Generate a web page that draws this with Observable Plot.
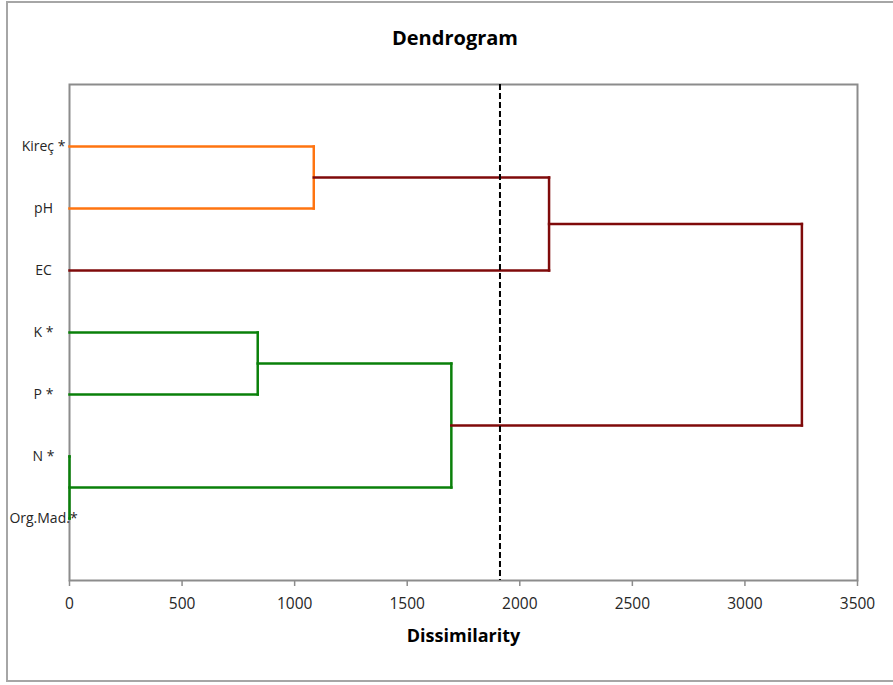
<!DOCTYPE html>
<html>
<head>
<meta charset="utf-8">
<script src="https://cdn.jsdelivr.net/npm/d3@7"></script>
<script src="https://cdn.jsdelivr.net/npm/@observablehq/plot@0.6"></script>
<style>
  html, body { margin: 0; padding: 0; background: #fff; }
  body { width: 893px; height: 685px; position: relative; overflow: hidden; font-family: "Open Sans", Lato, sans-serif; }
  #border { position: absolute; left: 6px; top: 1px; width: 910px; height: 681px; border: 2px solid #a6a6a6; box-sizing: border-box; z-index: 2; pointer-events: none; }
  #title { position: absolute; left: 0; top: 25px; width: 910px; text-align: center; font-weight: bold; font-size: 20px; line-height: 26px; color: #000; }
  #chart { position: absolute; left: 0; top: 74px; }
</style>
</head>
<body>
<div id="chart"></div>
<div id="title">Dendrogram</div>
<div id="border"></div>
<script>
// Leaves (top to bottom)
const leaves = ["Kireç *", "pH", "EC", "K *", "P *", "N *", "Org.Mad.*"];
// Merges: id, the two children, merge height (dissimilarity), cluster group
const mergeIds    = ["m1", "m2", "m3", "m4", "m5", "m6"];
const mergeA      = ["Kireç *", "N *", "K *", "m3", "m1", "m5"];
const mergeB      = ["pH", "Org.Mad.*", "P *", "m2", "EC", "m4"];
const mergeHeight = [1085, 0, 836, 1696, 2130, 3253];
const mergeGroup  = ["C1", "C2", "C2", "C2", "root", "root"];
const cutoff = 1912;
const xTicks = [0, 500, 1000, 1500, 2000, 2500, 3000, 3500];

const groupDomain = ["C1", "C2", "root"];
const groupColors = ["#ff7410", "#0a800a", "#7f0a0a"];

// node positions
const pos = new Map();
leaves.forEach((d, i) => pos.set(d, {x: 0, y: i + 1}));
const segs = [];
mergeIds.forEach((id, i) => {
  const a = pos.get(mergeA[i]), b = pos.get(mergeB[i]);
  const h = mergeHeight[i], g = mergeGroup[i];
  segs.push({x1: a.x, y1: a.y, x2: h, y2: a.y, g});
  segs.push({x1: b.x, y1: b.y, x2: h, y2: b.y, g});
  segs.push({x1: h, y1: a.y, x2: h, y2: b.y, g});
  pos.set(id, {x: h, y: (a.y + b.y) / 2});
});

const chart = Plot.plot({
  width: 893,
  height: 600,
  marginTop: 10,
  marginLeft: 69,
  marginRight: 36,
  marginBottom: 94,
  style: {fontFamily: "'Open Sans', Lato, sans-serif", fontSize: "15px", color: "#262626", background: "transparent", overflow: "visible"},
  x: {domain: [0, 3500]},
  y: {domain: [0, leaves.length + 1], reverse: true},
  color: {domain: groupDomain, range: groupColors},
  marks: [
    Plot.frame({stroke: "#8c8c8c", strokeWidth: 2}),
    Plot.axisX(xTicks, {tickSize: 6, tickPadding: 11, stroke: "#8c8c8c", strokeWidth: 1.5, label: null, fill: "#262626", fontSize: 15.5, tickFormat: d3.format("d")}),
    Plot.link(segs, {x1: "x1", y1: "y1", x2: "x2", y2: "y2", stroke: "g", strokeWidth: 2.5, strokeLinecap: "square"}),
    Plot.ruleX([cutoff], {stroke: "#000", strokeWidth: 2, strokeDasharray: "6,3"}),
    Plot.axisY(d3.range(1, leaves.length + 1), {tickSize: 0, tickPadding: 26, textAnchor: "middle", tickFormat: i => leaves[i - 1], label: null, fontSize: 14, fill: "#262626"}),
    Plot.text(["Dissimilarity"], {frameAnchor: "bottom", lineAnchor: "middle", dy: 56, fontWeight: "bold", fontSize: 18, fill: "#000"})
  ]
});
document.getElementById("chart").appendChild(chart);
</script>
</body>
</html>
